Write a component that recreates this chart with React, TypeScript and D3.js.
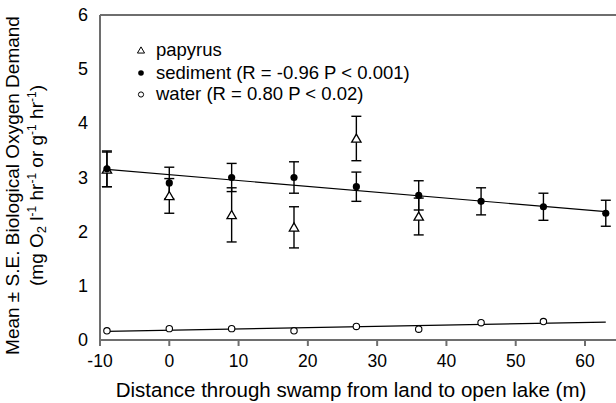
import * as d3 from "d3";

// distance along transect (m)
const sedX = [-9, 0, 9, 18, 27, 36, 45, 54, 63];
const sedMean = [3.16, 2.9, 3.0, 3.0, 2.83, 2.67, 2.56, 2.46, 2.34];
const sedSE = [0.33, 0.29, 0.26, 0.29, 0.27, 0.27, 0.25, 0.25, 0.24];

const papX = [-9, 0, 9, 18, 27, 36];
const papMean = [3.15, 2.66, 2.31, 2.08, 3.72, 2.28];
const papSE = [0.32, 0.32, 0.5, 0.38, 0.41, 0.34];

const watX = [-9, 0, 9, 18, 27, 36, 45, 54];
const watMean = [0.17, 0.21, 0.21, 0.17, 0.25, 0.2, 0.32, 0.34];

// fitted regression lines, read at the ends
const sedFitX = [-9, 63];
const sedFitY = [3.15, 2.37];
const watFitX = [-9, 63];
const watFitY = [0.16, 0.33];

const xTicks = [-10, 0, 10, 20, 30, 40, 50, 60];
const yTicks = [0, 1, 2, 3, 4, 5, 6];

const W = 616;
const H = 403;
const font = "'Liberation Sans', Arial, Helvetica, sans-serif";

export default function App() {
  const x = d3.scaleLinear().domain([-10, 60]).range([100, 585]);
  const y = d3.scaleLinear().domain([0, 6]).range([340, 15]);
  const line = d3
    .line<[number, number]>()
    .x((d) => x(d[0]))
    .y((d) => y(d[1]));

  const tri = d3.symbol().type(d3.symbolTriangle).size(38)();
  const triSmall = d3.symbol().type(d3.symbolTriangle).size(22)();

  const errBar = (cx: number, m: number, se: number, key: string) => (
    <g key={key} stroke="#000" strokeWidth={1.4}>
      <line x1={x(cx)} x2={x(cx)} y1={y(m + se)} y2={y(m - se)} />
      <line x1={x(cx) - 5} x2={x(cx) + 5} y1={y(m + se)} y2={y(m + se)} />
      <line x1={x(cx) - 5} x2={x(cx) + 5} y1={y(m - se)} y2={y(m - se)} />
    </g>
  );

  return (
    <svg
      width={W}
      height={H}
      style={{ position: "absolute", left: 0, top: 0, background: "#fff" }}
      fontFamily={font}
    >
      {/* frame: top, left, bottom */}
      <g stroke="#6e6e6e" strokeWidth={2} fill="none">
        <line x1={x(-10)} x2={W} y1={y(6)} y2={y(6)} />
        <line x1={x(-10)} x2={x(-10)} y1={y(6)} y2={y(0)} />
        <line x1={x(-10)} x2={W} y1={y(0)} y2={y(0)} />
      </g>

      {/* x ticks */}
      {xTicks.map((t) => (
        <g key={"xt" + t}>
          <line x1={x(t)} x2={x(t)} y1={y(0)} y2={y(0) + 6} stroke="#6e6e6e" strokeWidth={2} />
          <text x={x(t)} y={y(0) + 27} textAnchor="middle" fontSize={17.5}>
            {t}
          </text>
        </g>
      ))}
      {/* y tick labels */}
      {yTicks.map((t) => (
        <text key={"yt" + t} x={88} y={y(t) + 6} textAnchor="end" fontSize={18}>
          {t}
        </text>
      ))}

      {/* axis titles */}
      <text x={351} y={397} textAnchor="middle" fontSize={20.5}>
        Distance through swamp from land to open lake (m)
      </text>
      <g transform={`translate(19, ${y(3) + 8}) rotate(-90)`} fontSize={19}>
        <text x={0} y={0} textAnchor="middle">
          Mean ± S.E. Biological Oxygen Demand
        </text>
        <text x={0} y={24} textAnchor="middle">
          (mg O
          <tspan fontSize={13} dy={3}>2</tspan>
          <tspan dy={-3}> l</tspan>
          <tspan fontSize={12} dy={-7}>-1</tspan>
          <tspan dy={7}> hr</tspan>
          <tspan fontSize={12} dy={-7}>-1</tspan>
          <tspan dy={7}> or g</tspan>
          <tspan fontSize={12} dy={-7}>-1</tspan>
          <tspan dy={7}> hr</tspan>
          <tspan fontSize={12} dy={-7}>-1</tspan>
          <tspan dy={7}>)</tspan>
        </text>
      </g>

      {/* regression lines */}
      <path d={line(sedFitX.map((v, i) => [v, sedFitY[i]]))!} stroke="#000" strokeWidth={1.2} fill="none" />
      <path d={line(watFitX.map((v, i) => [v, watFitY[i]]))!} stroke="#000" strokeWidth={1.2} fill="none" />

      {/* error bars */}
      {papX.map((v, i) => errBar(v, papMean[i], papSE[i], "pe" + i))}
      {sedX.map((v, i) => errBar(v, sedMean[i], sedSE[i], "se" + i))}

      {/* papyrus triangles */}
      {papX.map((v, i) => (
        <path
          key={"pt" + i}
          d={tri!}
          transform={`translate(${x(v)},${y(papMean[i]) + 1})`}
          fill="#fff"
          stroke="#000"
          strokeWidth={1.3}
        />
      ))}
      {/* sediment dots */}
      {sedX.map((v, i) => (
        <circle key={"sd" + i} cx={x(v)} cy={y(sedMean[i])} r={3.6} fill="#000" />
      ))}
      {/* water circles */}
      {watX.map((v, i) => (
        <circle key={"wc" + i} cx={x(v)} cy={y(watMean[i])} r={3.2} fill="#fff" stroke="#000" strokeWidth={1.1} />
      ))}

      {/* legend */}
      <g fontSize={18.5}>
        <path d={triSmall!} transform="translate(141,51)" fill="#fff" stroke="#000" strokeWidth={1} />
        <text x={156} y={56}>papyrus</text>
        <circle cx={141} cy={73} r={2.8} fill="#000" />
        <text x={156} y={79}>sediment (R = -0.96 P &lt; 0.001)</text>
        <circle cx={141} cy={94.5} r={2.6} fill="#fff" stroke="#000" strokeWidth={1} />
        <text x={156} y={100}>water (R = 0.80 P &lt; 0.02)</text>
      </g>
    </svg>
  );
}
